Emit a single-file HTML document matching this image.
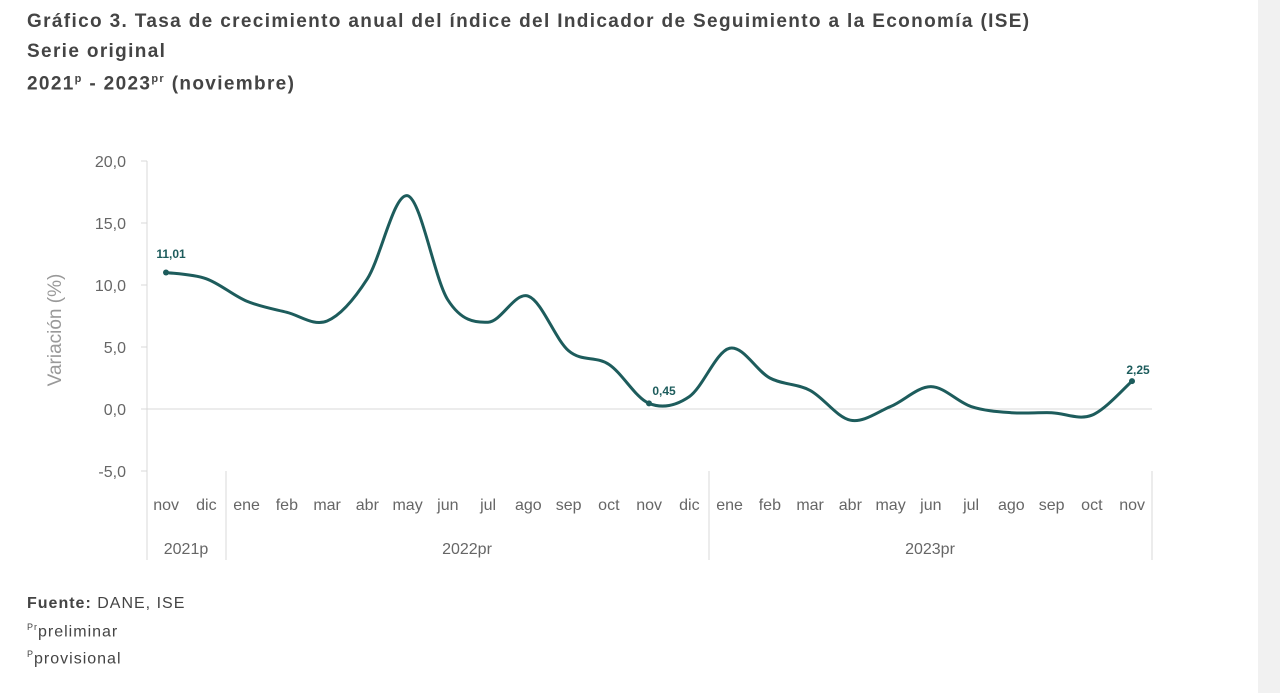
<!DOCTYPE html>
<html><head><meta charset="utf-8"><style>
body{margin:0;width:1280px;height:693px;background:#fff;overflow:hidden;font-family:"Liberation Sans","DejaVu Sans",sans-serif;position:relative}
.t{position:absolute;left:27px;font-weight:bold;color:#444;font-size:19px;letter-spacing:1.35px}
.f{position:absolute;left:27px;color:#444;font-size:16px;letter-spacing:1px}
</style></head><body>
<div class="t" style="top:11px">Gráfico 3. Tasa de crecimiento anual del índice del Indicador de Seguimiento a la Economía (ISE)</div>
<div class="t" style="top:41px">Serie original</div>
<div class="t" style="top:73px">2021<sup style="font-size:11px">p</sup> - 2023<sup style="font-size:11px">pr</sup> (noviembre)</div>
<div style="position:absolute;left:1258px;top:0;width:22px;height:693px;background:#f1f1f1"></div>
<svg width="1280" height="693" style="position:absolute;left:0;top:0" font-family="Liberation Sans, sans-serif">
<line x1="147" y1="409" x2="1152" y2="409" stroke="#d9d9d9"/>
<line x1="147" y1="161" x2="147" y2="560" stroke="#d9d9d9"/>
<g stroke="#d9d9d9"><line x1="141" y1="161" x2="147" y2="161"/><line x1="141" y1="223" x2="147" y2="223"/><line x1="141" y1="285" x2="147" y2="285"/><line x1="141" y1="347" x2="147" y2="347"/><line x1="141" y1="409" x2="147" y2="409"/><line x1="141" y1="471" x2="147" y2="471"/>
<line x1="226" y1="471" x2="226" y2="560"/><line x1="709" y1="471" x2="709" y2="560"/><line x1="1152" y1="471" x2="1152" y2="560"/></g>
<g fill="#666" font-size="16" text-anchor="end"><text x="126" y="167">20,0</text><text x="126" y="229">15,0</text><text x="126" y="291">10,0</text><text x="126" y="353">5,0</text><text x="126" y="415">0,0</text><text x="126" y="477">-5,0</text></g>
<text transform="translate(61,330) rotate(-90)" fill="#999" font-size="19" text-anchor="middle">Variación (%)</text>
<g id="xl" fill="#666" font-size="16" text-anchor="middle"></g>
<g fill="#666" font-size="16" text-anchor="middle"><text x="186" y="554">2021p</text><text x="467" y="554">2022pr</text><text x="930" y="554">2023pr</text></g>
<path id="ln" fill="none" stroke="#1d5c5c" stroke-width="3"/>
<circle cx="166" cy="272.5" r="3" fill="#1d5c5c"/><circle cx="649" cy="403.4" r="3" fill="#1d5c5c"/><circle cx="1132" cy="381.1" r="3" fill="#1d5c5c"/>
<g fill="#1d5c5c" font-size="12" font-weight="bold" text-anchor="middle"><text x="171" y="258">11,01</text><text x="664" y="395">0,45</text><text x="1138" y="374">2,25</text></g>
</svg>
<div class="f" style="top:595px"><b>Fuente:</b> DANE, ISE</div>
<div class="f" style="top:622px"><sup style="font-size:9px">Pr</sup>preliminar</div>
<div class="f" style="top:649px"><sup style="font-size:9px">P</sup>provisional</div>
<script>
var v=[11.01,10.5,8.7,7.8,7.1,10.5,17.2,8.8,7.0,9.1,4.7,3.6,0.45,1.0,4.9,2.5,1.5,-0.9,0.2,1.8,0.2,-0.3,-0.3,-0.5,2.25];
var m=["nov","dic","ene","feb","mar","abr","may","jun","jul","ago","sep","oct","nov","dic","ene","feb","mar","abr","may","jun","jul","ago","sep","oct","nov"];
var p=v.map(function(a,i){return [166.1+40.25*i,409-12.4*a]});
var d="M"+p[0][0]+","+p[0][1];
for(var i=0;i<p.length-1;i++){var p0=p[i-1]||p[i],p1=p[i],p2=p[i+1],p3=p[i+2]||p2;
d+=" C"+(p1[0]+(p2[0]-p0[0])/6)+","+(p1[1]+(p2[1]-p0[1])/6)+" "+(p2[0]-(p3[0]-p1[0])/6)+","+(p2[1]-(p3[1]-p1[1])/6)+" "+p2[0]+","+p2[1];}
document.getElementById("ln").setAttribute("d",d);
var g=document.getElementById("xl"),s="";
m.forEach(function(t,i){s+='<text x="'+(166.1+40.25*i)+'" y="510">'+t+'</text>'});
g.innerHTML=s;
</script>
</body></html>
